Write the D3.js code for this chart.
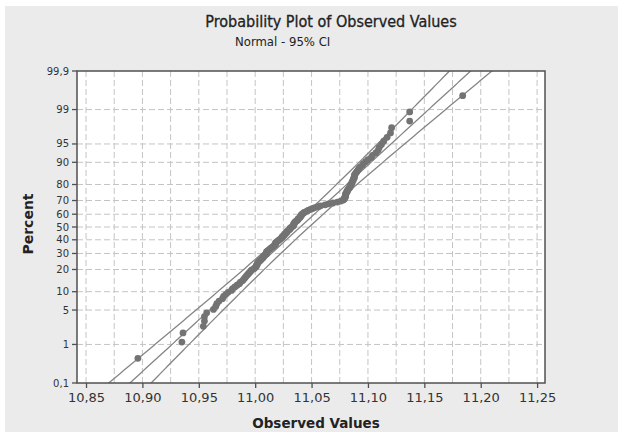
<!DOCTYPE html>
<html>
<head>
<meta charset="utf-8">
<script src="https://cdn.jsdelivr.net/npm/d3@7"></script>
<style>
  body { margin: 0; background: #fff; }
  svg { display: block; }
  .lbl { font-family: "DejaVu Sans", sans-serif; }
  .cond { font-family: "DejaVu Sans Condensed", "DejaVu Sans", sans-serif; }
</style>
</head>
<body>
<div id="chart"></div>
<script>
const observed = [
  10.896, 10.935, 10.936, 10.954, 10.955, 10.955, 10.957, 10.963, 10.965, 10.966,
  10.968, 10.971, 10.972, 10.974, 10.976, 10.979, 10.980, 10.982, 10.984, 10.986,
  10.987, 10.989, 10.990, 10.991, 10.992, 10.993, 10.994, 10.995, 10.996, 10.997,
  10.999, 11.000, 11.001, 11.001, 11.002, 11.002, 11.003, 11.004, 11.005, 11.006,
  11.007, 11.007, 11.008, 11.009, 11.010, 11.010, 11.010, 11.011, 11.012, 11.013,
  11.014, 11.015, 11.016, 11.017, 11.018, 11.018, 11.018, 11.019, 11.020, 11.021,
  11.022, 11.023, 11.024, 11.024, 11.025, 11.026, 11.026, 11.027, 11.028, 11.028,
  11.029, 11.030, 11.031, 11.031, 11.032, 11.033, 11.034, 11.034, 11.034, 11.035,
  11.035, 11.036, 11.037, 11.038, 11.038, 11.039, 11.040, 11.040, 11.041, 11.041,
  11.042, 11.043, 11.044, 11.046, 11.047, 11.049, 11.051, 11.053, 11.056, 11.058,
  11.062, 11.065, 11.069, 11.073, 11.076, 11.078, 11.079, 11.079, 11.080, 11.080,
  11.080, 11.080, 11.081, 11.081, 11.082, 11.082, 11.083, 11.084, 11.084, 11.085,
  11.085, 11.086, 11.086, 11.087, 11.087, 11.088, 11.088, 11.088, 11.089, 11.090,
  11.091, 11.092, 11.093, 11.095, 11.096, 11.098, 11.100, 11.103, 11.104, 11.107,
  11.109, 11.110, 11.112, 11.114, 11.117, 11.120, 11.121, 11.137, 11.137, 11.184
];

// fitted normal
const fitMean = 11.040;
const fitStDev = 0.0489;
const ciZ = 1.96;

const xTicks = [10.85, 10.90, 10.95, 11.00, 11.05, 11.10, 11.15, 11.20, 11.25];
const xTickLabels = ["10,85", "10,90", "10,95", "11,00", "11,05", "11,10", "11,15", "11,20", "11,25"];
const xGrid = [10.85, 10.875, 10.90, 10.925, 10.95, 10.975, 11.00, 11.025, 11.05, 11.075,
               11.10, 11.125, 11.15, 11.175, 11.20, 11.225, 11.25];
const yTicks = [0.1, 1, 5, 10, 20, 30, 40, 50, 60, 70, 80, 90, 95, 99, 99.9];
const yTickLabels = ["0,1", "1", "5", "10", "20", "30", "40", "50", "60", "70", "80", "90", "95", "99", "99,9"];

// inverse normal cdf (Acklam)
function qnorm(p) {
  const a = [-3.969683028665376e+01, 2.209460984245205e+02, -2.759285104469687e+02, 1.383577518672690e+02, -3.066479806614716e+01, 2.506628277459239e+00];
  const b = [-5.447609879822406e+01, 1.615858368580409e+02, -1.556989798598866e+02, 6.680131188771972e+01, -1.328068155288572e+01];
  const c = [-7.784894002430293e-03, -3.223964580411365e-01, -2.400758277161838e+00, -2.549732539343734e+00, 4.374664141464968e+00, 2.938163982698783e+00];
  const d = [7.784695709041462e-03, 3.224671290700398e-01, 2.445134137142996e+00, 3.754408661907416e+00];
  const pl = 0.02425;
  let q, r;
  if (p < pl) {
    q = Math.sqrt(-2 * Math.log(p));
    return (((((c[0]*q+c[1])*q+c[2])*q+c[3])*q+c[4])*q+c[5]) / ((((d[0]*q+d[1])*q+d[2])*q+d[3])*q+1);
  }
  if (p <= 1 - pl) {
    q = p - 0.5; r = q * q;
    return (((((a[0]*r+a[1])*r+a[2])*r+a[3])*r+a[4])*r+a[5])*q / (((((b[0]*r+b[1])*r+b[2])*r+b[3])*r+b[4])*r+1);
  }
  q = Math.sqrt(-2 * Math.log(1 - p));
  return -(((((c[0]*q+c[1])*q+c[2])*q+c[3])*q+c[4])*q+c[5]) / ((((d[0]*q+d[1])*q+d[2])*q+d[3])*q+1);
}

const width = 618, height = 432;
const plot = { left: 77, right: 545, top: 71, bottom: 383 };

const svg = d3.select("#chart").append("svg").attr("width", width).attr("height", height);

svg.append("rect").attr("x", 5).attr("y", 6).attr("width", width - 5).attr("height", height - 6)
  .attr("fill", "#ebebeb");

const x = d3.scaleLinear().domain([10.842, 11.257]).range([plot.left, plot.right]);
const zMax = qnorm(0.999);
const y = d3.scaleLinear().domain([-zMax, zMax]).range([plot.bottom, plot.top]);
const yp = p => y(qnorm(p / 100));

svg.append("rect")
  .attr("x", plot.left).attr("y", plot.top)
  .attr("width", plot.right - plot.left).attr("height", plot.bottom - plot.top)
  .attr("fill", "#fff");

svg.append("clipPath").attr("id", "clip").append("rect")
  .attr("x", plot.left).attr("y", plot.top)
  .attr("width", plot.right - plot.left).attr("height", plot.bottom - plot.top);

// grid
svg.append("g").selectAll("line").data(xGrid).enter().append("line")
  .attr("x1", d => x(d)).attr("x2", d => x(d))
  .attr("y1", plot.top).attr("y2", plot.bottom)
  .attr("stroke", "#c4c4c4").attr("stroke-dasharray", "6,3");
svg.append("g").selectAll("line").data(yTicks.slice(1, -1)).enter().append("line")
  .attr("x1", plot.left).attr("x2", plot.right)
  .attr("y1", d => yp(d)).attr("y2", d => yp(d))
  .attr("stroke", "#c4c4c4").attr("stroke-dasharray", "6,3");

// fit line and confidence bands
const n = observed.length;
const zs = d3.range(-3.3, 3.31, 0.05);
const fitLine = d3.line().x(d => x(d.v)).y(d => y(d.z));
const se = z => fitStDev * Math.sqrt(1 / n + z * z / (2 * n));
const curves = [
  zs.map(z => ({ z, v: fitMean + z * fitStDev })),
  zs.map(z => ({ z, v: fitMean + z * fitStDev - ciZ * se(z) })),
  zs.map(z => ({ z, v: fitMean + z * fitStDev + ciZ * se(z) }))
];
const lines = svg.append("g").attr("clip-path", "url(#clip)");
lines.selectAll("path").data(curves).enter().append("path")
  .attr("d", fitLine)
  .attr("fill", "none")
  .attr("stroke", "#858585")
  .attr("stroke-width", 1.3);

// points at median ranks
svg.append("g").attr("clip-path", "url(#clip)")
  .selectAll("circle").data(observed).enter().append("circle")
  .attr("cx", d => x(d))
  .attr("cy", (d, i) => y(qnorm((i + 1 - 0.3) / (n + 0.4))))
  .attr("r", 3.4)
  .attr("fill", "#737373");

// frame
svg.append("rect")
  .attr("x", plot.left).attr("y", plot.top)
  .attr("width", plot.right - plot.left).attr("height", plot.bottom - plot.top)
  .attr("fill", "none").attr("stroke", "#505050").attr("stroke-width", 1.5);

// axes
const xAxis = svg.append("g").attr("transform", `translate(0,${plot.bottom})`)
  .call(d3.axisBottom(x).tickValues(xTicks).tickSize(5).tickSizeOuter(0)
    .tickFormat((d, i) => xTickLabels[i]));
xAxis.select(".domain").remove();
xAxis.selectAll("line").attr("stroke", "#505050").attr("stroke-width", 1.3);
xAxis.selectAll("text").attr("class", "lbl").attr("font-size", 13).attr("fill", "#333").attr("dy", "0.85em");

const yt = svg.append("g").attr("transform", `translate(${plot.left},0)`)
  .selectAll(".yt").data(yTicks).enter().append("g")
  .attr("transform", d => `translate(0,${yp(d)})`);
yt.append("line").attr("x1", -5).attr("x2", 0).attr("stroke", "#505050").attr("stroke-width", 1.3);
yt.append("text").attr("class", "lbl")
  .attr("x", -8).attr("dy", "0.35em")
  .attr("text-anchor", "end").attr("font-size", 10).attr("fill", "#333")
  .text((d, i) => yTickLabels[i]);

// titles
svg.append("text").attr("class", "cond")
  .attr("x", 331).attr("y", 27).attr("text-anchor", "middle")
  .attr("font-size", 16).attr("fill", "#222")
  .attr("stroke", "#222").attr("stroke-width", 0.3)
  .text("Probability Plot of Observed Values");
svg.append("text").attr("class", "cond")
  .attr("x", 235).attr("y", 46)
  .attr("font-size", 13).attr("fill", "#222")
  .text("Normal - 95% CI");
svg.append("text").attr("class", "lbl")
  .attr("x", 316).attr("y", 428).attr("text-anchor", "middle")
  .attr("font-size", 13.5).attr("font-weight", "bold").attr("fill", "#222")
  .text("Observed Values");
svg.append("text").attr("class", "lbl")
  .attr("transform", "translate(33,224) rotate(-90)").attr("text-anchor", "middle")
  .attr("font-size", 14).attr("font-weight", "bold").attr("fill", "#222")
  .text("Percent");
</script>
</body>
</html>
